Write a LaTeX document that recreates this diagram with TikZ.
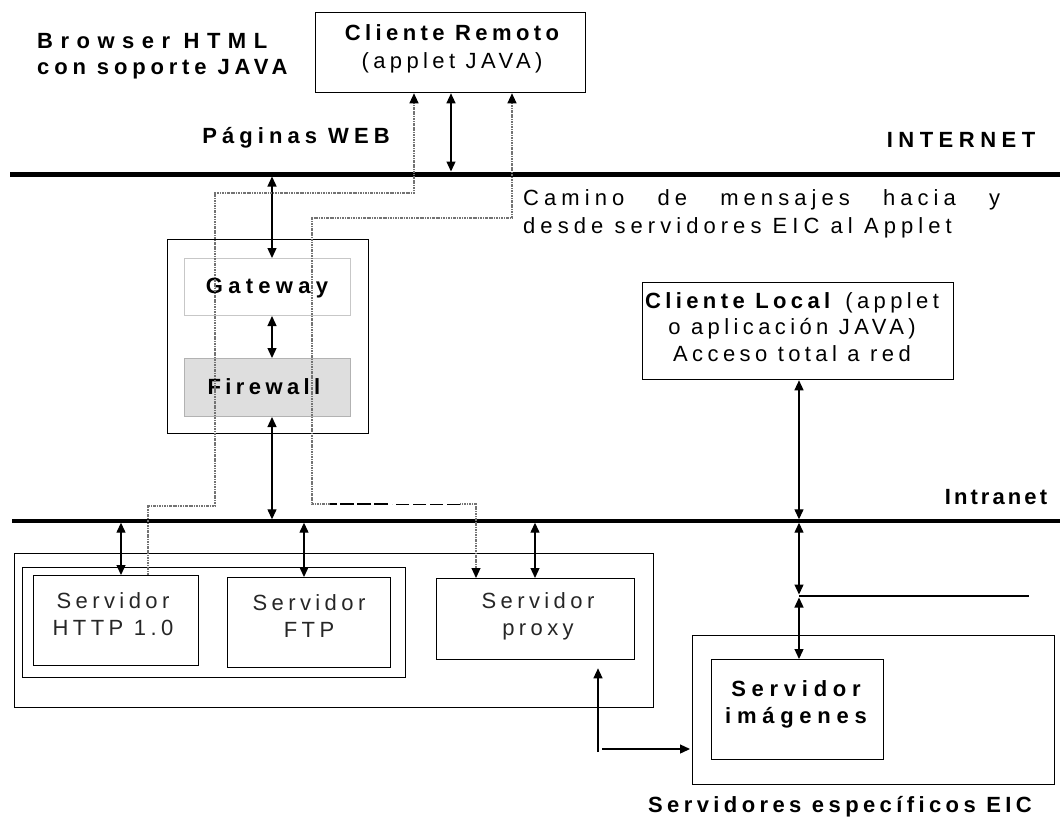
\documentclass[tikz,border=0pt]{standalone}
\usepackage{fontspec}
\setmainfont{Liberation Sans}[LetterSpace=20]
\usetikzlibrary{arrows.meta}
\newcommand{\spaced}[1]{\addfontfeature{LetterSpace=#1}}
\tikzset{msgtip/.tip={Triangle[length=10pt,width=9pt,color=black,fill=black]}}
\begin{document}
\begin{tikzpicture}[x=1pt,y=-1pt,
  txt/.style={inner sep=0pt, align=center, font=\fontsize{22}{27}\selectfont},
  btxt/.style={txt, font=\fontsize{22}{27}\selectfont\bfseries},
  srvtxt/.style={txt, text=black!85},
  box/.style={draw, line width=1.3pt, inner sep=0pt, anchor=north west},
  link/.style={line width=1.3pt, {Triangle[length=10pt,width=9pt]}-{Triangle[length=10pt,width=9pt]}},
  oneway/.style={line width=1.3pt, -{Triangle[length=10pt,width=9pt]}},
  msg/.style={line width=1.1pt, draw=black!55, dash pattern=on 2.5pt off 1pt on 0.8pt off 1pt}
]
\useasboundingbox (0,0) rectangle (1060,819);

% ---------- network backbones ----------
\coordinate (inet-w) at (10,174);
\coordinate (inet-e) at (1060,174);
\draw[line width=5pt] (inet-w) -- (inet-e);
\coordinate (lan-w) at (12,521);
\coordinate (lan-e) at (1060,521);
\draw[line width=3.5pt] (lan-w) -- (lan-e);

% ---------- boxes ----------
\node[box, minimum width=270pt, minimum height=80pt] (cr) at (315,12) {};
\node[box, minimum width=201pt, minimum height=194pt] (gwout) at (167,239) {};
\node[box, draw=black!22, line width=1pt, fill=white, minimum width=166pt, minimum height=57pt] (gw) at (184,258) {};
\node[box, draw=black!30, line width=1pt, fill=black!13, minimum width=166pt, minimum height=58pt] (fw) at (184,358) {};
\node[box, minimum width=311pt, minimum height=97pt] (cl) at (642,282) {};
\node[box, minimum width=639pt, minimum height=154pt] (srvout) at (14,553) {};
\node[box, minimum width=383pt, minimum height=110pt] (srvin) at (22,567) {};
\node[box, minimum width=165pt, minimum height=90pt] (http) at (33,575) {};
\node[box, minimum width=163pt, minimum height=90pt] (ftp) at (227,577) {};
\node[box, minimum width=198pt, minimum height=81pt] (proxy) at (436,578) {};
\node[box, minimum width=362pt, minimum height=149pt] (eic) at (692,635) {};
\node[box, minimum width=172pt, minimum height=100pt] (img) at (711,659) {};

% ---------- labels ----------
\node[btxt, anchor=west, align=left, font=\fontsize{22}{26}\selectfont\bfseries] (browser) at (37,56)
  {{\spaced{34}Browser HTML}\\{\spaced{22}con soporte JAVA}};
\node[txt, font=\fontsize{22}{28}\selectfont] (crtxt) at (452,49) {\bfseries Cliente Remoto\\(applet JAVA)};
\node[btxt, font=\fontsize{22}{27}\selectfont\bfseries\spaced{23}] (web) at (296,138) {Páginas WEB};
\node[btxt, font=\fontsize{22}{27}\selectfont\bfseries\spaced{25}] (inet) at (961,140) {INTERNET};
\node[txt, anchor=west, align=left, font=\fontsize{22}{28}\selectfont\spaced{23}] (camino) at (523,214)
  {\makebox[477pt][s]{Camino de mensajes hacia y}\\desde servidores EIC al Applet};
\node[btxt, font=\fontsize{22}{27}\selectfont\bfseries\spaced{24}] (gwtxt) at (267,288) {Gateway};
\node[btxt] (fwtxt) at (264,387) {Firewall};
\node[txt, font=\fontsize{22}{26.5}\selectfont] (cltxt) at (792,327)
  {\textbf{Cliente Local} (applet\\o aplicación JAVA)\\Acceso total a red};
\node[btxt, font=\fontsize{22}{27}\selectfont\bfseries\spaced{14}] (lan) at (996,497) {Intranet};
\node[srvtxt] (httptxt) at (113,614) {Servidor\\HTTP 1.0};
\node[srvtxt] (ftptxt) at (309,616) {Servidor\\FTP};
\node[srvtxt] (proxytxt) at (538,616) {Servidor\\proxy};
\node[btxt, font=\fontsize{22}{27}\selectfont\bfseries\spaced{26}] (imgtxt) at (796,704) {Servidor\\imágenes};
\node[btxt] (eictxt) at (840,807) {Servidores específicos EIC};

% ---------- solid links ----------
\coordinate (p1) at (451,171.5);
\draw[link] (p1 |- cr.south) -- (p1);
\coordinate (p2) at (272,176.5);
\draw[link] (p2) -- (p2 |- gw.north);
\draw[link] (p2 |- gw.south) -- (p2 |- fw.north);
\coordinate (p4) at (272,519.3);
\draw[link] (p4 |- fw.south) -- (p4);
\coordinate (p5) at (121,522.7);
\draw[link] (p5) -- (p5 |- http.north);
\coordinate (p6) at (304,522.7);
\draw[link] (p6) -- (p6 |- ftp.north);
\coordinate (p7) at (535,522.7);
\draw[link] (p7) -- (p7 |- proxy.north);
\coordinate (p8) at (799,519.3);
\draw[link] (p8 |- cl.south) -- (p8);
\coordinate (p9) at (799,522.7);
\coordinate (jn-a) at (799,594.5);
\coordinate (jn) at (799,596);
\coordinate (jn-b) at (799,597.5);
\draw[link] (p9) -- (jn-a);
\draw[link] (jn-b) -- (jn-b |- img.north);
\coordinate (tap) at (1029,596);
\draw[line width=1.3pt] (jn) -- (tap);
\coordinate (q1) at (598,752);
\draw[oneway] (q1) -- ([yshift=-8pt]q1 |- proxy.south);
\coordinate (q2) at (602,749);
\draw[oneway, shorten >=2pt] (q2) -- (q2 -| eic.west);

% ---------- message paths between the EIC servers and the applet ----------
\coordinate (m1) at (148,506);
\coordinate (m2) at (215,506);
\coordinate (m3) at (215,193);
\coordinate (m4) at (414,193);
\draw[msg, -{msgtip}] (m1 |- http.north) -- (m1) -- (m2) -- (m3) -- (m4) -- (m4 |- cr.south);

\coordinate (n1) at (476,504);
\coordinate (d4) at (460,504);
\coordinate (d3) at (392,504);
\coordinate (d2) at (388,504);
\coordinate (d1) at (330,504);
\coordinate (n2) at (312,504);
\coordinate (n3) at (312,218);
\coordinate (n4) at (512,218);
\draw[msg, {msgtip}-] (n1 |- proxy.north) -- (n1) -- (d4);
\draw[line width=1pt, dash pattern=on 13pt off 4pt] (d4) -- (d3);
\draw[line width=2.6pt, dash pattern=on 14pt off 3pt] (d2) -- (d1);
\draw[msg, -{msgtip}] (d1) -- (n2) -- (n3) -- (n4) -- (n4 |- cr.south);
\end{tikzpicture}
\end{document}
